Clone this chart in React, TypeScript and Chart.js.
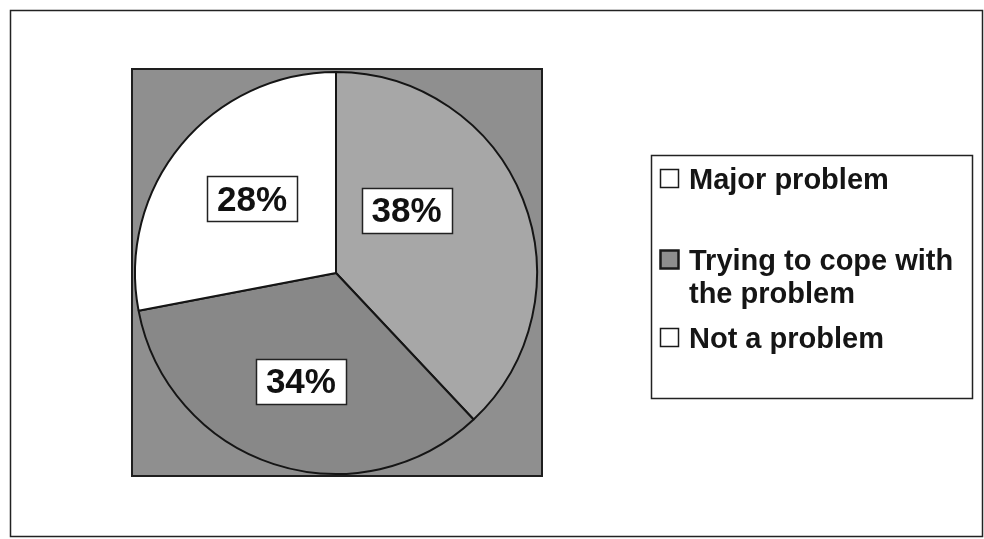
import React, { useEffect, useRef } from 'react';
import { Chart, registerables } from 'chart.js';

Chart.register(...registerables);

// ---- data ----
const categories = ['Major problem', 'Trying to cope with the problem', 'Not a problem'];
const legendLines = [['Major problem'], ['Trying to cope with', 'the problem'], ['Not a problem']];
const values = [38, 34, 28];
const valueLabels = ['38%', '34%', '28%'];

// ---- styles ----
const sliceColors = ['#a7a7a7', '#888888', '#ffffff'];
const swatchColors = ['#ffffff', '#8e8e8e', '#ffffff'];
const labelRadialFrac = [0.47, 0.565, 0.557];
const labelAngleShiftDeg = [-20, 0, 1.8];
const legendBaselines = [189, 270, 348];
const legendLineGap = 33;

const FONT = "'Liberation Sans', Arial, Helvetica, sans-serif";

const decorPlugin = {
  id: 'decor',
  beforeDraw(chart: any) {
    const ctx = chart.ctx;
    ctx.save();
    ctx.fillStyle = '#ffffff';
    ctx.fillRect(0, 0, chart.width, chart.height);
    // outer frame
    ctx.strokeStyle = '#222222';
    ctx.lineWidth = 1.5;
    ctx.strokeRect(10.5, 10.5, 972, 526);
    // plot area
    ctx.fillStyle = '#8f8f8f';
    ctx.fillRect(132, 69, 410, 407);
    ctx.lineWidth = 2;
    ctx.strokeStyle = '#1e1e1e';
    ctx.strokeRect(132, 69, 410, 407);
    ctx.restore();
  },
  afterDraw(chart: any) {
    const ctx = chart.ctx;
    const meta = chart.getDatasetMeta(0);
    ctx.save();
    // data labels
    ctx.font = `bold 35px ${FONT}`;
    ctx.textAlign = 'center';
    ctx.textBaseline = 'middle';
    meta.data.forEach((arc: any, i: number) => {
      const mid = (arc.startAngle + arc.endAngle) / 2 + (labelAngleShiftDeg[i] * Math.PI) / 180;
      const r = arc.outerRadius * labelRadialFrac[i];
      const x = arc.x + Math.cos(mid) * r;
      const y = arc.y + Math.sin(mid) * r;
      const text = valueLabels[i];
      const w = ctx.measureText(text).width + 20;
      const h = 45;
      ctx.fillStyle = '#ffffff';
      ctx.fillRect(Math.round(x - w / 2), Math.round(y - h / 2), Math.round(w), h);
      ctx.strokeStyle = '#222222';
      ctx.lineWidth = 1.5;
      ctx.strokeRect(Math.round(x - w / 2) + 0.5, Math.round(y - h / 2) + 0.5, Math.round(w), h);
      ctx.fillStyle = '#111111';
      ctx.fillText(text, x, y + 2);
    });
    // legend
    ctx.fillStyle = '#ffffff';
    ctx.fillRect(651, 155, 321, 243);
    ctx.strokeStyle = '#222222';
    ctx.lineWidth = 1.5;
    ctx.strokeRect(651.5, 155.5, 321, 243);
    ctx.font = `bold 29px ${FONT}`;
    ctx.textAlign = 'left';
    ctx.textBaseline = 'alphabetic';
    legendLines.forEach((lines, i) => {
      const base = legendBaselines[i];
      ctx.fillStyle = swatchColors[i];
      ctx.fillRect(660, base - 20, 18, 18);
      ctx.strokeStyle = '#1a1a1a';
      ctx.lineWidth = i === 1 ? 2.5 : 1.5;
      ctx.strokeRect(660.5, base - 19.5, 18, 18);
      ctx.fillStyle = '#151515';
      lines.forEach((ln, j) => {
        ctx.fillText(ln, 689, base + j * legendLineGap);
      });
    });
    ctx.restore();
  },
};

export default function App() {
  const ref = useRef<HTMLCanvasElement>(null);
  useEffect(() => {
    document.body.style.margin = '0';
    if (!ref.current) return;
    const chart = new Chart(ref.current, {
      type: 'pie',
      data: {
        labels: categories,
        datasets: [
          {
            data: values,
            backgroundColor: sliceColors,
            borderColor: '#151515',
            borderWidth: 2,
          },
        ],
      },
      options: {
        responsive: false,
        animation: false,
        devicePixelRatio: 1,
        radius: 201,
        layout: { padding: { left: 135, right: 447, top: 72, bottom: 65 } },
        plugins: {
          legend: { display: false },
          tooltip: { enabled: false },
        },
      } as any,
      plugins: [decorPlugin],
    });
    return () => chart.destroy();
  }, []);
  return (
    <div style={{ position: 'fixed', left: 0, top: 0, width: 984, height: 539 }}>
      <canvas ref={ref} width={984} height={539} style={{ width: 984, height: 539 }} />
    </div>
  );
}
